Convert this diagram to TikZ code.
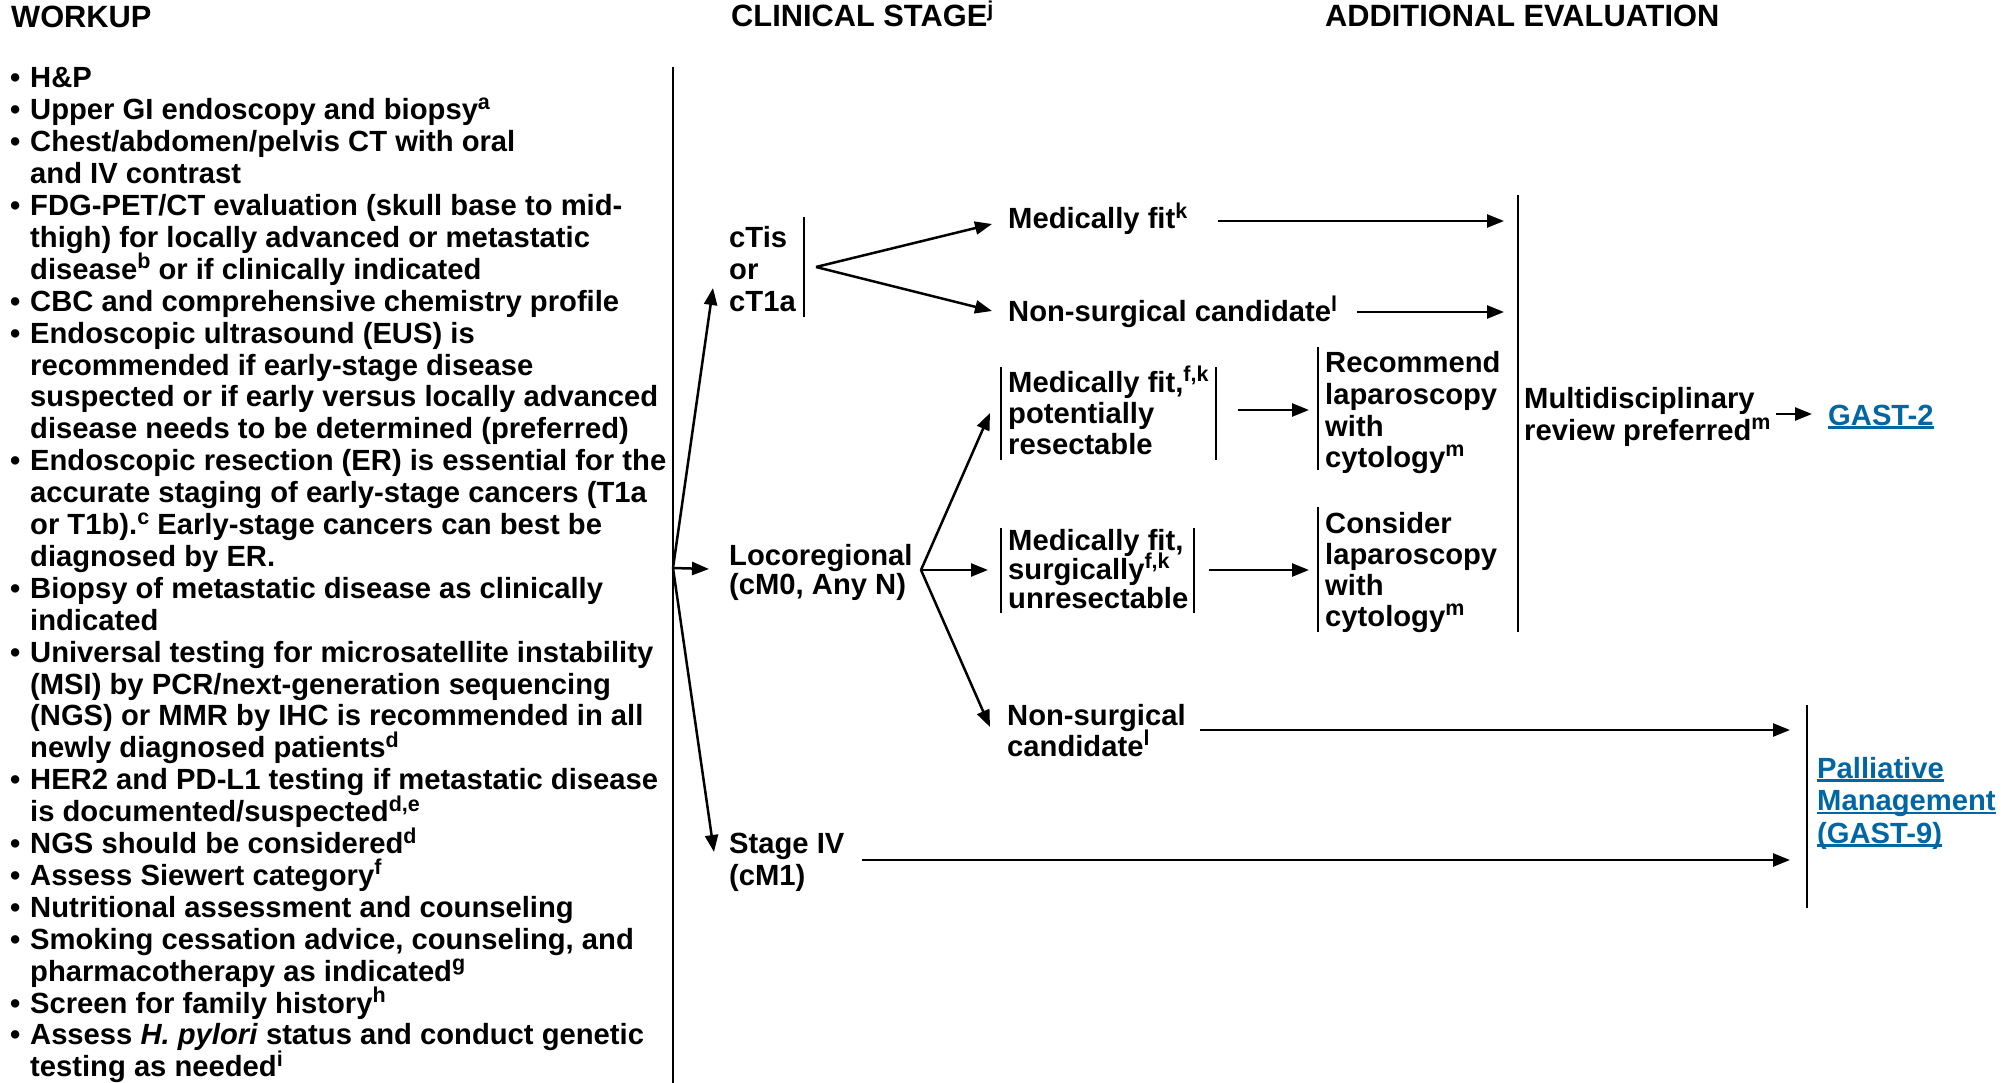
\documentclass[tikz,border=0pt]{standalone}
\usepackage{fontspec}
\setmainfont{Liberation Sans}
\usetikzlibrary{arrows.meta}
\definecolor{linkblue}{RGB}{0,102,164}
\newcommand\vlines[2]{\vtop{\baselineskip=#1pt\lineskiplimit=-\maxdimen\halign{##\hfil\cr#2\crcr}}}
\newcommand\sps[1]{\raisebox{10.5pt}{\fontsize{21.5}{21.5}\selectfont #1}}
\newcommand\wb{\makebox[20pt][l]{•}}
\newcommand\wi{\hbox to 20pt{}}
\newcommand\lnk[1]{\setbox0\hbox{#1}\rlap{\rule[-3.5pt]{\wd0}{2.2pt}}\box0}
\tikzset{
  txt/.style={anchor=base west, inner sep=0pt, font=\fontsize{29.2}{32}\selectfont\bfseries},
  head/.style={txt, font=\fontsize{30.8}{32}\selectfont\bfseries},
  link/.style={txt, text=linkblue},
  arr/.style={line width=2.5pt, -{Triangle[length=17pt,width=13pt]}},
  bar/.style={line width=2pt},
}
\begin{document}
\begin{tikzpicture}[x=1pt,y=-1pt]
\useasboundingbox (0,0) rectangle (2011,1083);
% headers
\node[head] (hw) at (11,28) {WORKUP};
\node[head] (hc) at (731,27) {CLINICAL STAGE\sps{j}};
\node[head] (ha) at (1325,27) {ADDITIONAL EVALUATION};
% workup list
\node[txt] (work) at (10,88) {\vlines{31.9}{%
\wb H\&P\cr
\wb Upper GI endoscopy and biopsy\sps{a}\cr
\wb Chest/abdomen/pelvis CT with oral\cr
\wi and IV contrast\cr
\wb FDG-PET/CT evaluation (skull base to mid-\cr
\wi thigh) for locally advanced or metastatic\cr
\wi disease\sps{b} or if clinically indicated\cr
\wb CBC and comprehensive chemistry profile\cr
\wb Endoscopic ultrasound (EUS) is\cr
\wi recommended if early-stage disease\cr
\wi suspected or if early versus locally advanced\cr
\wi disease needs to be determined (preferred)\cr
\wb Endoscopic resection (ER) is essential for the\cr
\wi accurate staging of early-stage cancers (T1a\cr
\wi or T1b).\sps{c} Early-stage cancers can best be\cr
\wi diagnosed by ER.\cr
\wb Biopsy of metastatic disease as clinically\cr
\wi indicated\cr
\wb Universal testing for microsatellite instability\cr
\wi (MSI) by PCR/next-generation sequencing\cr
\wi (NGS) or MMR by IHC is recommended in all\cr
\wi newly diagnosed patients\sps{d}\cr
\wb HER2 and PD-L1 testing if metastatic disease\cr
\wi is documented/suspected\sps{d,e}\cr
\wb NGS should be considered\sps{d}\cr
\wb Assess Siewert category\sps{f}\cr
\wb Nutritional assessment and counseling\cr
\wb Smoking cessation advice, counseling, and\cr
\wi pharmacotherapy as indicated\sps{g}\cr
\wb Screen for family history\sps{h}\cr
\wb Assess \textit{H. pylori} status and conduct genetic\cr
\wi testing as needed\sps{i}}};
% divider
\coordinate (divtop) at (673,67);
\coordinate (divbot) at (673,1083);
\draw[bar] (divtop) -- (divbot);
\coordinate (D) at (673,568);
% clinical stage nodes
\node[txt] (ct) at (729,248) {\vlines{32}{cTis\cr or\cr cT1a}};
\node[txt] (loc) at (729,565) {\vlines{29}{Locoregional\cr (cM0, Any N)}};
\node[txt] (st4) at (729,853) {\vlines{32}{Stage IV\cr (cM1)}};
\coordinate (ctin) at (713,288);
\coordinate (locin) at (709,569);
\coordinate (st4in) at (714,852);
\draw[arr] (D) -- (ctin);
\draw[arr] (D) -- (locin);
\draw[arr] (D) -- (st4in);
% cTis bar and fan
\coordinate (ctbt) at (804,217);
\coordinate (ctbb) at (804,317);
\draw[bar] (ctbt) -- (ctbb);
\coordinate (F1) at (816,267);
\node[txt] (mf) at (1008,229) {Medically fit\sps{k}};
\node[txt] (nsc) at (1008,322) {Non-surgical candidate\sps{l}};
\coordinate (mfin) at (992,224);
\coordinate (nscin) at (992,311);
\draw[arr] (F1) -- (mfin);
\draw[arr] (F1) -- (nscin);
% big bar and multidisciplinary
\coordinate (bbt) at (1518,195);
\coordinate (bbb) at (1518,632);
\draw[bar] (bbt) -- (bbb);
\coordinate (mfout) at (1218,221);
\coordinate (mfend) at (1504,221);
\coordinate (nscout) at (1357,312);
\coordinate (nscend) at (1504,312);
\draw[arr] (mfout) -- (mfend);
\draw[arr] (nscout) -- (nscend);
\node[txt] (mdr) at (1524,408) {\vlines{32}{Multidisciplinary\cr review preferred\sps{m}}};
\node[link] (g2) at (1828,425) {\lnk{GAST-2}};
\coordinate (mdrout) at (1776,414);
\coordinate (g2in) at (1812,414);
\draw[arr] (mdrout) -- (g2in);
% locoregional fan
\coordinate (L) at (921,570);
\coordinate (mfprin) at (990,413);
\coordinate (mfsuin) at (988,570);
\coordinate (nsc2in) at (990,727);
\draw[arr] (L) -- (mfprin);
\draw[arr] (L) -- (mfsuin);
\draw[arr] (L) -- (nsc2in);
% medically fit potentially resectable
\node[txt] (mfpr) at (1008,392) {\vlines{31}{Medically fit,\sps{f,k}\cr potentially\cr resectable}};
\draw[bar] (1001,367) -- (1001,460);
\draw[bar] (1216,367) -- (1216,460);
\coordinate (mfprout) at (1238,410);
\coordinate (recin) at (1309,410);
\draw[arr] (mfprout) -- (recin);
\node[txt] (rec) at (1325,373) {\vlines{31.5}{Recommend\cr laparoscopy\cr with\cr cytology\sps{m}}};
\draw[bar] (1318,347) -- (1318,470);
% medically fit surgically unresectable
\node[txt] (mfsu) at (1008,550) {\vlines{29}{Medically fit,\cr surgically\sps{f,k}\cr unresectable}};
\draw[bar] (1001,528) -- (1001,613);
\draw[bar] (1194,528) -- (1194,613);
\coordinate (mfsuout) at (1209,570);
\coordinate (conin) at (1309,570);
\draw[arr] (mfsuout) -- (conin);
\node[txt] (con) at (1325,533) {\vlines{31}{Consider\cr laparoscopy\cr with\cr cytology\sps{m}}};
\draw[bar] (1318,507) -- (1318,632);
% non-surgical candidate (locoregional)
\node[txt] (nsc2) at (1007,725) {\vlines{31}{Non-surgical\cr candidate\sps{l}}};
\coordinate (nsc2out) at (1200,730);
\coordinate (palin1) at (1790,730);
\draw[arr] (nsc2out) -- (palin1);
\coordinate (st4out) at (862,860);
\coordinate (palin2) at (1790,860);
\draw[arr] (st4out) -- (palin2);
% palliative
\draw[bar] (1807,705) -- (1807,908);
\node[link] (pal) at (1817,778) {\vlines{32.5}{\lnk{Palliative}\cr \lnk{Management}\cr \lnk{(GAST-9)}}};
\end{tikzpicture}
\end{document}
